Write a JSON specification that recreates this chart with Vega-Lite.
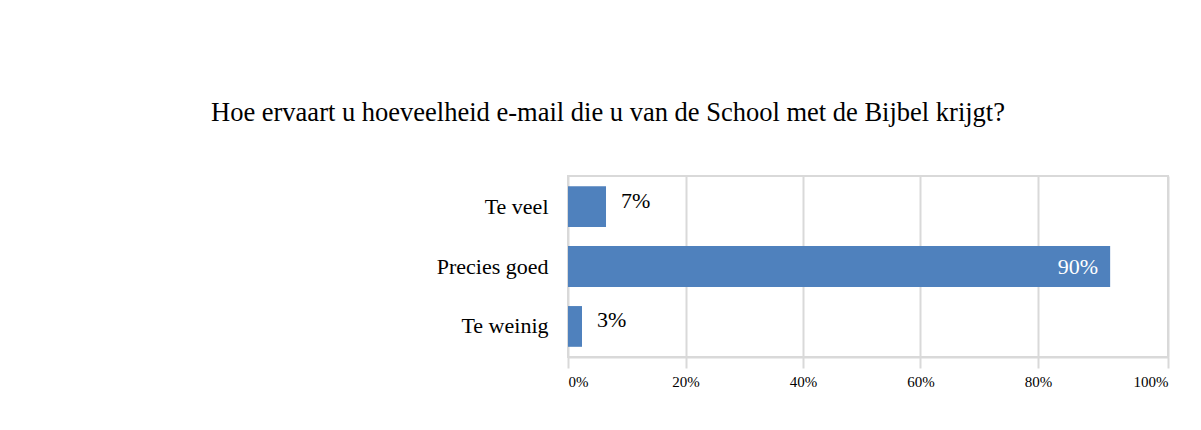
{
  "$schema": "https://vega.github.io/schema/vega-lite/v6.json",
  "autosize": "none",
  "padding": {"left": 568, "top": 176, "right": 33, "bottom": 73},
  "width": 600,
  "height": 181,
  "background": "white",
  "title": {
    "text": "Hoe ervaart u hoeveelheid e-mail die u van de School met de Bijbel krijgt?",
    "font": "Liberation Serif",
    "fontSize": 26.5,
    "fontWeight": "normal",
    "color": "#000000",
    "anchor": "middle",
    "baseline": "alphabetic",
    "offset": 29,
    "dx": -260
  },
  "data": {
    "values": [
      {"antwoord": "Te veel", "aandeel": 0.0647, "label": "7%"},
      {"antwoord": "Precies goed", "aandeel": 0.911, "label": "90%"},
      {"antwoord": "Te weinig", "aandeel": 0.0238, "label": "3%"}
    ]
  },
  "encoding": {
    "y": {
      "field": "antwoord",
      "type": "nominal",
      "sort": ["Te veel", "Precies goed", "Te weinig"],
      "scale": {"paddingInner": 0.32, "paddingOuter": 0.17},
      "axis": {
        "title": null,
        "ticks": false,
        "domain": false,
        "grid": false,
        "labelFont": "Liberation Serif",
        "labelFontSize": 22,
        "labelColor": "#000000",
        "labelPadding": 20
      }
    },
    "x": {
      "field": "aandeel",
      "type": "quantitative",
      "scale": {"domain": [0, 0.8, 1], "range": [0, 470, 600], "nice": false, "zero": false},
      "axis": {
        "title": null,
        "values": [0, 0.2, 0.4, 0.6, 0.8, 1],
        "format": ".0%",
        "grid": true,
        "gridColor": "#d9d9d9",
        "gridWidth": 2,
        "domainColor": "#d9d9d9",
        "domainWidth": 2,
        "tickColor": "#d9d9d9",
        "tickWidth": 2,
        "tickSize": 11,
        "labelFont": "Liberation Serif",
        "labelFontSize": 15,
        "labelColor": "#000000",
        "labelPadding": 6,
        "labelFlush": true
      }
    }
  },
  "layer": [
    {"mark": {"type": "bar", "color": "#4f81bd"}},
    {
      "transform": [{"filter": "datum.aandeel < 0.5"}],
      "mark": {"type": "text", "align": "left", "baseline": "middle", "dx": 15, "dy": -6, "font": "Liberation Serif", "fontSize": 22, "color": "#000000"},
      "encoding": {"text": {"field": "label"}}
    },
    {
      "transform": [{"filter": "datum.aandeel >= 0.5"}],
      "mark": {"type": "text", "align": "right", "baseline": "middle", "dx": -12, "font": "Liberation Serif", "fontSize": 22, "color": "#ffffff"},
      "encoding": {"text": {"field": "label"}}
    }
  ],
  "config": {
    "view": {"stroke": "#d9d9d9", "strokeWidth": 2}
  }
}
